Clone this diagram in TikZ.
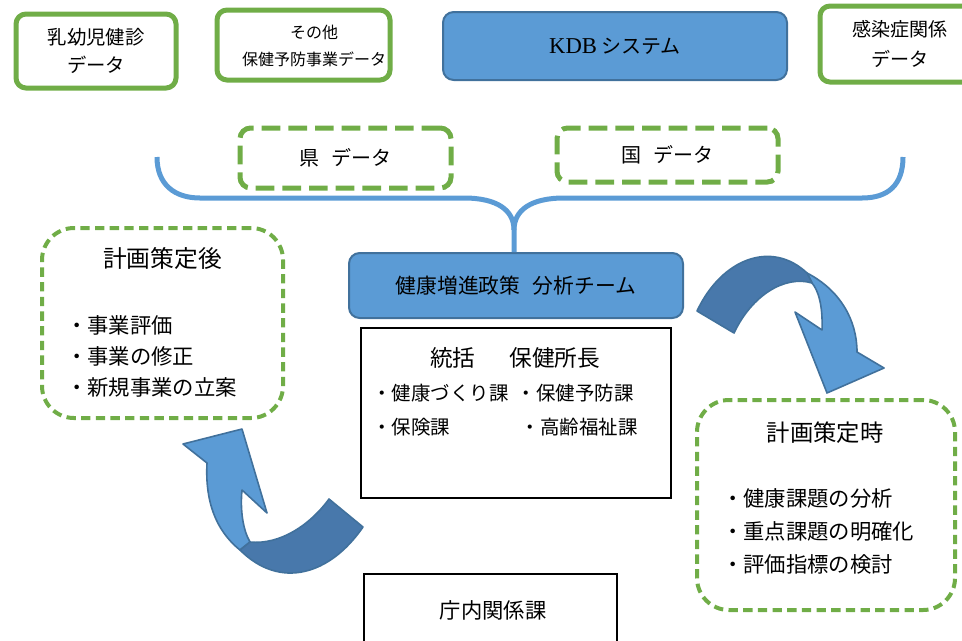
\documentclass[tikz,border=0pt]{standalone}
\usepackage{fontspec}
\setmainfont{Noto Sans CJK JP}
\newfontfamily\kdbfont{Liberation Serif}
\definecolor{grn}{HTML}{70AD47}
\definecolor{bfill}{HTML}{5B9BD5}
\definecolor{bbord}{HTML}{41719C}
\definecolor{bdark}{HTML}{4878AB}
\newcommand{\fsz}[2]{\fontsize{#1pt}{#2pt}\selectfont}
\begin{document}
\begin{tikzpicture}[x=0.75pt,y=-0.75pt,
  gbox/.style={draw=grn,line width=3.75pt,rounded corners=7.5pt,fill=white,align=center,inner sep=0pt},
  gdash/.style={draw=grn,line width=3.75pt,dash pattern=on 14pt off 6pt,rounded corners=8pt,inner sep=0pt},
  gdashbig/.style={draw=grn,line width=3pt,dash pattern=on 7pt off 4pt,rounded corners=24pt,inner sep=0pt},
  bbox/.style={draw=bbord,fill=bfill,line width=1.5pt,rounded corners=8pt,inner sep=0pt},
  kbox/.style={draw=black,line width=0.9pt,inner sep=0pt},
  txt/.style={inner sep=0pt,align=left,anchor=west},
  ctxt/.style={inner sep=0pt,align=center},
  brace/.style={draw=bfill,line width=3.75pt},
  arlight/.style={fill=bfill,draw=bbord,line width=1.2pt,line join=round},
  ardark/.style={fill=bdark,draw=bbord,line width=1.2pt,line join=round}]
\useasboundingbox (0,0) rectangle (962,640);

% top row
\node[gbox, minimum width=120pt, minimum height=55.5pt, font=\fsz{14.5}{21}] (nyu) at (96,51) {乳幼児健診\\データ};
\node[gbox, minimum width=129.75pt, minimum height=52.5pt] (sonota) at (303.5,45) {};
\node[ctxt, font=\fsz{12}{20}] (sonotat) at (314,46) {その他\\保健予防事業データ};
\node[bbox, minimum width=258pt, minimum height=51pt, font=\fsz{15}{18}] (kdb) at (615,46) {{\kdbfont\fsz{17}{18}KDB} システム};
\node[gbox, minimum width=120pt, minimum height=57pt, font=\fsz{14.3}{22}] (kansen) at (900,44) {感染症関係\\データ};

% data boxes
\node[gdash, minimum width=158.25pt, minimum height=45pt, font=\fsz{15}{18}] (ken) at (345.5,158) {県\hspace{0.6em}データ};
\node[gdash, minimum width=165.75pt, minimum height=40.5pt, font=\fsz{15}{18}] (kuni) at (667.5,155) {国\hspace{0.6em}データ};

% team
\node[bbox, minimum width=250.5pt, minimum height=48.75pt, font=\fsz{15.6}{18}] (team) at (516,285.5) {健康増進政策\hspace{0.6em}分析チーム};

% brace
\coordinate (bl) at (157,157);
\coordinate (br) at (903,157);
\coordinate (cusp) at (514,230);
\draw[brace] (bl) .. controls (157,185) and (175,198) .. (200,198) -- (464,198)
   .. controls (497,198) and (514,210) .. (cusp) -- (cusp |- team.north);
\draw[brace] (cusp) .. controls (514,210) and (531,198) .. (564,198) -- (862,198)
   .. controls (888,198) and (903,185) .. (br);

% tokatsu box
\node[kbox, minimum width=232.5pt, minimum height=127.5pt] (tokatsu) at (516,413) {};
\node[ctxt, font=\fsz{17}{20}] (tk0) at (515,358) {統括\hspace{1.5em}保健所長};
\node[txt, font=\fsz{14.6}{18}] (tk1) at (372,393) {・健康づくり課};
\node[txt, font=\fsz{14.6}{18}] (tk2) at (516.5,393) {・保健予防課};
\node[txt, font=\fsz{14.6}{18}] (tk3) at (372,427) {・保険課};
\node[txt, font=\fsz{14.6}{18}] (tk4) at (520.5,427) {・高齢福祉課};

% after box
\node[gdashbig, minimum width=180.75pt, minimum height=142.5pt] (after) at (162.5,323) {};
\node[ctxt, font=\fsz{17.8}{20}] (aftert) at (162.5,258) {計画策定後};
\node[txt, font=\fsz{16}{23.25}] (afterl) at (66,356) {・事業評価\\・事業の修正\\・新規事業の立案};

% during box
\node[gdashbig, minimum width=193.5pt, minimum height=157.5pt] (during) at (826,505) {};
\node[ctxt, font=\fsz{17.5}{20}] (duringt) at (825,433) {計画策定時};
\node[txt, font=\fsz{16}{24.75}] (duringl) at (722,531) {・健康課題の分析\\・重点課題の明確化\\・評価指標の検討};

% chonai
\node[kbox, minimum width=189.75pt, minimum height=67.5pt] (chonai) at (490.5,619) {};
\node[ctxt, font=\fsz{16}{18}] (chonait) at (493,610) {庁内関係課};

% curved arrow upper right
\draw[arlight] (807,273) .. controls (840,290) and (857,320) .. (857,352) -- (884,368) -- (827,393) -- (795,312) -- (822,330)
   .. controls (823,305) and (818,290) .. (812,283) -- cycle;
\draw[ardark] (697,311) .. controls (722,258) and (772,240) .. (807,273) -- (812,283)
   .. controls (785,275) and (752,295) .. (734,333) -- cycle;

% curved arrow lower left
\draw[arlight] (240,550) .. controls (215,530) and (205,500) .. (207,463) -- (183,444) -- (242,429) -- (267,513) -- (242,490)
   .. controls (240,510) and (243,530) .. (250,542) -- cycle;
\draw[ardark] (363,527) .. controls (330,575) and (280,590) .. (240,550) -- (250,542)
   .. controls (280,545) and (310,525) .. (329,499) -- cycle;
\end{tikzpicture}
\end{document}
